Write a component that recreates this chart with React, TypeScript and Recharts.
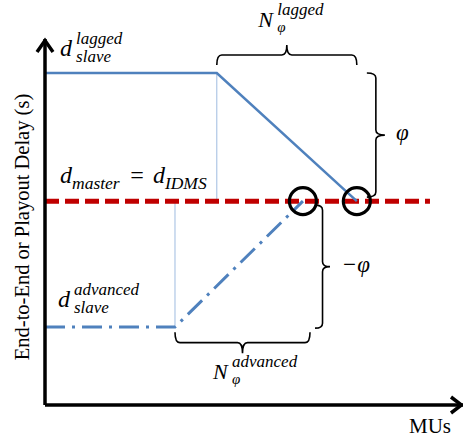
import { LineChart, Line, XAxis, YAxis, ReferenceLine, ReferenceDot } from 'recharts'

const serif = "'Liberation Serif', 'Times New Roman', serif"
const italic = { fontFamily: serif, fontStyle: 'italic' as const }
const upright = { fontFamily: serif }

// schematic values, x = MUs (0..100), y = delay (0..100)
const laggedSlave = [
  { x: 0, y: 90.7 },
  { x: 41.1, y: 90.7 },
  { x: 74.6, y: 55.7 },
]
const master = [
  { x: 0, y: 55.7 },
  { x: 92.1, y: 55.7 },
]
const advancedSlave = [
  { x: 0, y: 21.3 },
  { x: 31.1, y: 21.3 },
  { x: 61.7, y: 55.7 },
]
const syncPoints = [
  { x: 61.7, y: 55.7 },
  { x: 74.6, y: 55.7 },
]
const guides = [
  { x: 41.1, from: 90.7, to: 55.7 },
  { x: 31.1, from: 55.7, to: 21.3 },
]
// braces: start, end, bulge (px, + = left side of travel direction)
const braces = [
  { x1: 41.1, y1: 92.9, x2: 74.6, y2: 92.9, w: 20 },
  { x1: 77.0, y1: 90.7, x2: 77.0, y2: 56.8, w: 18 },
  { x1: 64.6, y1: 54.6, x2: 64.6, y2: 21.0, w: 15 },
  { x1: 63.4, y1: 19.9, x2: 31.1, y2: 19.9, w: 21 },
]
const mathLabels = [
  { x: 3.6, y: 95.4, base: 'd', sup: 'lagged', sub: 'slave' },
  { x: 3.1, y: 26.8, base: 'd', sup: 'advanced', sub: 'slave' },
  { x: 51.0, y: 103.3, base: 'N', sup: 'lagged', sub: 'φ' },
  { x: 40.2, y: 7.1, base: 'N', sup: 'advanced', sub: 'φ' },
]
const plainLabels = [
  { x: 84.0, y: 72.4, text: 'φ' },
  { x: 71.0, y: 36.3, text: '−φ' },
]
const masterLabel = { x: 3.6, y: 60.7 }

function bracePath(x1: number, y1: number, x2: number, y2: number, w: number) {
  const dx = x2 - x1
  const dy = y2 - y1
  const L = Math.hypot(dx, dy)
  const ex = dx / L
  const ey = dy / L
  const nx = ey
  const ny = -ex
  const P = (u: number, v: number) => `${x1 + u * ex + v * nx},${y1 + u * ey + v * ny}`
  const r = 5
  const h = w / 2
  return `M${P(0, 0)} Q${P(0, h)} ${P(r, h)} L${P(L / 2 - r, h)} Q${P(L / 2, h)} ${P(L / 2, w)} Q${P(L / 2, h)} ${P(L / 2 + r, h)} L${P(L - r, h)} Q${P(L, h)} ${P(L, 0)}`
}

function arrowShape(dir: 'up' | 'right') {
  return (p: any) => {
    const { x1, y1, x2, y2 } = p
    const tip = dir === 'up' ? { x: x1, y: Math.min(y1, y2) } : { x: Math.max(x1, x2), y: y1 }
    const wings =
      dir === 'up'
        ? `M${tip.x - 8},${tip.y + 13} L${tip.x},${tip.y + 1.5} L${tip.x + 8},${tip.y + 13}`
        : `M${tip.x - 12},${tip.y - 8} L${tip.x - 1.5},${tip.y} L${tip.x - 12},${tip.y + 8}`
    return (
      <g>
        <line x1={x1} y1={y1} x2={x2} y2={y2} stroke="#000" strokeWidth={3.5} />
        <path d={wings} fill="none" stroke="#000" strokeWidth={3.5} />
      </g>
    )
  }
}

function MathLabel({ cx, cy, l }: any) {
  const isN = l.base === 'N'
  const off = isN ? 19 : 16
  return (
    <g fill="#000">
      <text x={cx} y={cy} fontSize={isN ? 22 : 24} style={italic}>{l.base}</text>
      <text x={cx + off} y={cy - 12} fontSize={17} style={italic}>{l.sup}</text>
      <text x={cx + off} y={cy + (isN ? 5 : 6)} fontSize={isN ? 15 : 17} style={italic}>{l.sub}</text>
    </g>
  )
}

export default function App() {
  return (
    <div style={{ position: 'absolute', left: 0, top: 0, width: 463, height: 440, background: '#fff' }}>
      <LineChart width={463} height={440} margin={{ top: 39, right: 0, bottom: 0, left: 0 }}>
        <XAxis
          type="number"
          dataKey="x"
          domain={[0, 100]}
          allowDataOverflow
          tick={false}
          tickLine={false}
          axisLine={false}
          height={35}
          label={{
            content: (p: any) => {
              const vb = p.viewBox
              return (
                <text x={vb.x + vb.width - 12} y={vb.y + 28} textAnchor="end" fontSize={21} fill="#000" style={upright}>
                  MUs
                </text>
              )
            },
          }}
        />
        <YAxis
          type="number"
          domain={[0, 100]}
          allowDataOverflow
          tick={false}
          tickLine={false}
          axisLine={false}
          width={45}
          label={{
            content: (p: any) => {
              const vb = p.viewBox
              const cx = vb.x + 29
              const cy = vb.y + vb.height / 2 + 5
              return (
                <text x={cx} y={cy} transform={`rotate(-90 ${cx} ${cy})`} textAnchor="middle" fontSize={20.5} fill="#000" style={upright}>
                  End-to-End or Playout Delay (s)
                </text>
              )
            },
          }}
        />

        {guides.map((g, i) => (
          <ReferenceLine
            key={'g' + i}
            segment={[
              { x: g.x, y: g.from },
              { x: g.x, y: g.to },
            ]}
            stroke="#9fbbe0"
            strokeWidth={1}
          />
        ))}

        <Line data={master} dataKey="y" type="linear" stroke="#c00000" strokeWidth={5} strokeDasharray="14 6" dot={false} isAnimationActive={false} />
        <Line data={laggedSlave} dataKey="y" type="linear" stroke="#4f81bd" strokeWidth={2.5} dot={false} isAnimationActive={false} />
        <Line data={advancedSlave} dataKey="y" type="linear" stroke="#4f81bd" strokeWidth={3} strokeDasharray="20 7 3 7" dot={false} isAnimationActive={false} />

        {syncPoints.map((s, i) => (
          <ReferenceDot key={'s' + i} x={s.x} y={s.y} r={13.5} fill="none" stroke="#000" strokeWidth={3.2} ifOverflow="visible" />
        ))}

        {braces.map((b, i) => (
          <ReferenceLine
            key={'b' + i}
            segment={[
              { x: b.x1, y: b.y1 },
              { x: b.x2, y: b.y2 },
            ]}
            ifOverflow="visible"
            shape={(p: any) => <path d={bracePath(p.x1, p.y1, p.x2, p.y2, b.w)} fill="none" stroke="#000" strokeWidth={1.6} />}
          />
        ))}

        <ReferenceLine segment={[{ x: 0, y: 0 }, { x: 0, y: 100 }]} ifOverflow="visible" shape={arrowShape('up')} />
        <ReferenceLine segment={[{ x: 0, y: 0 }, { x: 100, y: 0 }]} ifOverflow="visible" shape={arrowShape('right')} />

        {mathLabels.map((l, i) => (
          <ReferenceDot key={'m' + i} x={l.x} y={l.y} r={1} ifOverflow="visible" shape={(p: any) => <MathLabel cx={p.cx} cy={p.cy} l={l} />} />
        ))}
        {plainLabels.map((l, i) => (
          <ReferenceDot
            key={'p' + i}
            x={l.x}
            y={l.y}
            r={1}
            ifOverflow="visible"
            shape={(p: any) => (
              <text x={p.cx} y={p.cy} fontSize={23} fill="#000" style={italic}>
                {l.text}
              </text>
            )}
          />
        ))}
        <ReferenceDot
          x={masterLabel.x}
          y={masterLabel.y}
          r={1}
          ifOverflow="visible"
          shape={(p: any) => (
            <text x={p.cx} y={p.cy} fontSize={24} fill="#000" style={italic}>
              d
              <tspan fontSize={17.5} dy={6}>master</tspan>
              <tspan style={upright} dx={3} dy={-6}>{' = '}</tspan>
              <tspan dx={2}>d</tspan>
              <tspan fontSize={17.5} dy={6}>IDMS</tspan>
            </text>
          )}
        />
      </LineChart>
    </div>
  )
}
